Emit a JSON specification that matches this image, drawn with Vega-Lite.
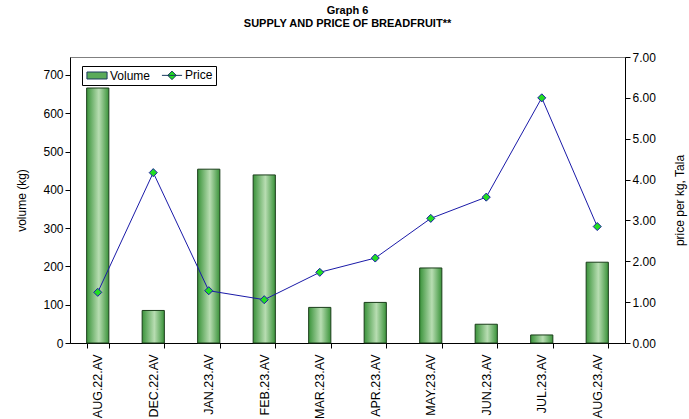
{
  "$schema": "https://vega.github.io/schema/vega-lite/v6.json",
  "width": 555,
  "height": 286,
  "autosize": {"type": "none"},
  "padding": {"left": 70, "top": 57, "right": 64, "bottom": 76},
  "background": "white",
  "config": {
    "font": "Liberation Sans",
    "view": {"stroke": "#808080", "strokeWidth": 1},
    "axis": {"labelFont": "Liberation Sans", "titleFont": "Liberation Sans", "labelColor": "black", "titleColor": "black", "domainColor": "black", "tickColor": "black", "labelFontSize": 12, "titleFontSize": 12, "titleFontWeight": "normal", "grid": false}
  },
  "title": {
    "text": ["Graph 6", "SUPPLY AND PRICE OF BREADFRUIT**"],
    "font": "Liberation Sans",
    "fontSize": 11,
    "fontWeight": "bold",
    "color": "black",
    "anchor": "middle",
    "frame": "group",
    "offset": 22,
    "lineHeight": 13
  },
  "data": {
    "values": [
      {"month": "AUG.22.AV", "volume": 666, "price": 1.24},
      {"month": "DEC.22.AV", "volume": 85, "price": 4.17},
      {"month": "JAN.23.AV", "volume": 454, "price": 1.28},
      {"month": "FEB.23.AV", "volume": 439, "price": 1.06},
      {"month": "MAR.23.AV", "volume": 93, "price": 1.73},
      {"month": "APR.23.AV", "volume": 106, "price": 2.08},
      {"month": "MAY.23.AV", "volume": 196, "price": 3.05},
      {"month": "JUN.23.AV", "volume": 49, "price": 3.57},
      {"month": "JUL.23.AV", "volume": 21, "price": 6.0},
      {"month": "AUG.23.AV", "volume": 211, "price": 2.85}
    ]
  },
  "encoding": {
    "x": {
      "field": "month", "type": "nominal", "sort": null,
      "scale": {"paddingInner": 0.6, "paddingOuter": 0.3},
      "axis": {"title": null, "labelAngle": -90, "labelAlign": "right", "labelBaseline": "middle", "tickBand": "extent", "tickSize": 5, "labelPadding": 6, "labelFontSize": 12.5}
    }
  },
  "layer": [
    {
      "mark": {
        "type": "bar",
        "stroke": "#1a3d1a",
        "strokeWidth": 1,
        "color": {"gradient": "linear", "x1": 0, "y1": 0, "x2": 1, "y2": 0,
          "stops": [{"offset": 0, "color": "#3a933a"}, {"offset": 0.55, "color": "#b8ddb2"}, {"offset": 1, "color": "#3a933a"}]}
      },
      "encoding": {
        "y": {
          "field": "volume", "type": "quantitative",
          "scale": {"domain": [0, 747], "nice": false},
          "axis": {"title": "volume (kg)", "values": [0, 100, 200, 300, 400, 500, 600, 700], "tickSize": 5, "titlePadding": 14}
        }
      }
    },
    {
      "mark": {"type": "line", "color": "#1a1aa8", "strokeWidth": 1},
      "encoding": {
        "y": {
          "field": "price", "type": "quantitative",
          "scale": {"domain": [0, 7], "nice": false},
          "axis": {"orient": "right", "title": "price per kg, Tala", "format": ".2f", "values": [0, 1, 2, 3, 4, 5, 6, 7], "tickSize": 5, "titlePadding": 31, "titleAngle": -90, "titleBaseline": "bottom"}
        }
      }
    },
    {
      "mark": {"type": "point", "shape": "diamond", "filled": true, "size": 65, "fill": "#22dd22", "stroke": "#1a1aa8", "strokeWidth": 1, "opacity": 1},
      "encoding": {
        "y": {"field": "price", "type": "quantitative", "scale": {"domain": [0, 7], "nice": false}, "axis": null}
      }
    },
    {
      "mark": {"type": "point", "filled": true, "size": 0, "stroke": "#1a3a60", "strokeWidth": 1, "opacity": 1},
      "encoding": {
        "y": {"field": "price", "type": "quantitative", "scale": {"domain": [0, 7], "nice": false}, "axis": null},
        "shape": {
          "datum": "Price",
          "scale": {"domain": ["Volume", "Price"], "range": ["M-2.6,-0.9H2.6V0.9H-2.6Z", "M-2.6,0H2.6M0,-1.1L1.1,0L0,1.1L-1.1,0Z"]},
          "legend": null
        },
        "color": {
          "datum": "Price",
          "scale": {"domain": ["Volume", "Price"], "range": ["#5aab5a", "#22dd22"]},
          "legend": {
            "title": null, "orient": "none", "legendX": 12, "legendY": 9, "direction": "horizontal",
            "strokeColor": "black", "fillColor": "white", "padding": 3,
            "labelFont": "Liberation Sans", "labelFontSize": 12, "labelColor": "black",
            "symbolSize": 60, "columnPadding": 8, "labelOffset": 7, "symbolOffset": 6,
            "symbolStrokeWidth": 1
          }
        }
      }
    }
  ],
  "resolve": {"scale": {"y": "independent"}}
}
